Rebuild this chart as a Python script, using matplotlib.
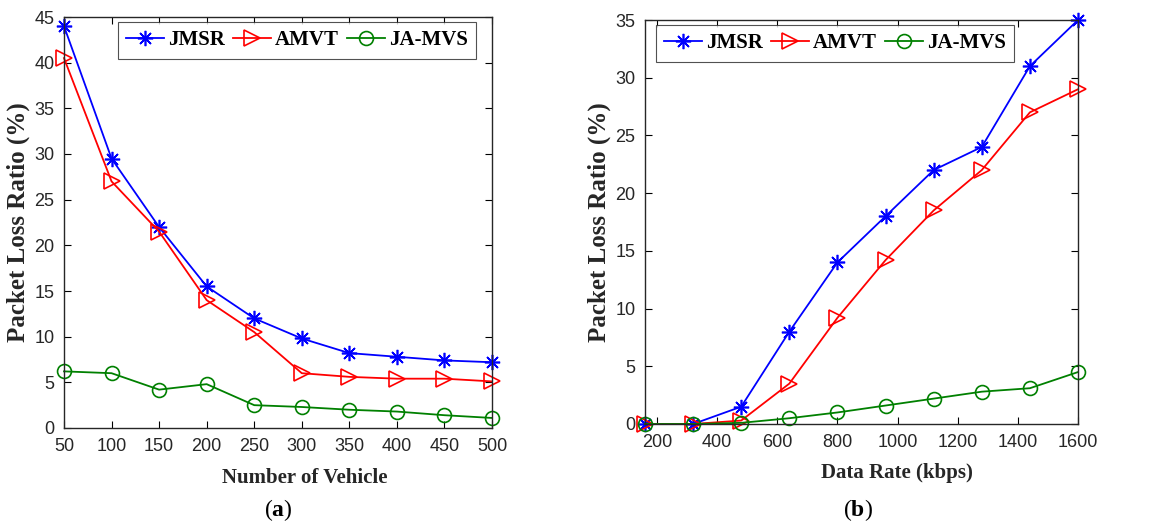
import matplotlib
matplotlib.use('Agg')
import matplotlib.pyplot as plt

plt.rcParams['font.family'] = ['Liberation Sans', 'DejaVu Sans']
plt.rcParams['mathtext.fontset'] = 'custom'
plt.rcParams['mathtext.rm'] = 'Liberation Serif'
plt.rcParams['mathtext.bf'] = 'Liberation Serif:bold'

# (a) packet loss vs number of vehicles
vehicles = [50, 100, 150, 200, 250, 300, 350, 400, 450, 500]
jmsr_a = [44, 29.5, 22, 15.5, 12, 9.8, 8.2, 7.8, 7.4, 7.2]
amvt_a = [40.5, 27, 21.5, 14, 10.5, 6.0, 5.6, 5.4, 5.4, 5.1]
jamvs_a = [6.2, 6.0, 4.2, 4.8, 2.5, 2.3, 2.0, 1.8, 1.4, 1.1]

# (b) packet loss vs data rate
rates = [160, 320, 480, 640, 800, 960, 1120, 1280, 1440, 1600]
jmsr_b = [0, 0, 1.5, 8, 14, 18, 22, 24, 31, 35]
amvt_b = [0, 0, 0.3, 3.5, 9.2, 14.2, 18.5, 22, 27, 29]
jamvs_b = [0, 0, 0.1, 0.5, 1.0, 1.6, 2.2, 2.8, 3.1, 4.5]

labels = ['JMSR', 'AMVT', 'JA-MVS']
serif_bold = {'family': 'Liberation Serif', 'weight': 'bold'}
dark = '#262626'

fig = plt.figure(figsize=(11.69, 5.31), dpi=100)
ax1 = fig.add_axes([64 / 1169, 1 - 428 / 531, 428 / 1169, 411 / 531])
ax2 = fig.add_axes([645 / 1169, 1 - 424 / 531, 433 / 1169, 404 / 531])


def draw(ax, x, series):
    styles = [('blue', (8, 2, 0), 11), ('red', '>', 11), ('green', 'o', 10)]
    for ys, (c, m, ms), lab in zip(series, styles, labels):
        ax.plot(x, ys, color=c, marker=m, markersize=ms, markerfacecolor='none',
                markeredgecolor=c, markeredgewidth=1.2, linewidth=1.3, label=lab,
                clip_on=False)
    ax.tick_params(direction='in', top=True, right=True, length=5, width=0.8,
                   labelsize=13, labelcolor=dark, pad=7)
    for s in ax.spines.values():
        s.set_linewidth(1.0)
        s.set_color(dark)
    ax.set_ylabel('Packet Loss Ratio (%)', fontdict=serif_bold, fontsize=18,
                  color=dark, labelpad=3)
    leg = ax.legend(loc='upper left', ncol=3,
                    prop={'family': 'Liberation Serif', 'weight': 'bold', 'size': 15},
                    frameon=True, fancybox=False, edgecolor=dark,
                    handlelength=1.8, handletextpad=0.2, columnspacing=0.4,
                    borderpad=0.4, borderaxespad=0)
    leg.get_frame().set_linewidth(0.8)
    return leg


leg1 = draw(ax1, vehicles, [jmsr_a, amvt_a, jamvs_a])
leg1.set_bbox_to_anchor((0.126, 0.988), transform=ax1.transAxes)
ax1.set_xlim(50, 500)
ax1.set_ylim(0, 45)
ax1.set_xticks(vehicles)
ax1.set_yticks(range(0, 46, 5))
ax1.set_xlabel('Number of Vehicle', fontdict=serif_bold, fontsize=15, color=dark)
ax1.xaxis.set_label_coords(0.563, -0.097)

leg2 = draw(ax2, rates, [jmsr_b, amvt_b, jamvs_b])
leg2.set_bbox_to_anchor((0.025, 0.988), transform=ax2.transAxes)
ax2.set_xlim(160, 1600)
ax2.set_ylim(0, 35)
ax2.set_xticks(range(200, 1601, 200))
ax2.set_yticks(range(0, 36, 5))
ax2.set_xlabel('Data Rate (kbps)', fontdict=serif_bold, fontsize=15, color=dark)
ax2.xaxis.set_label_coords(0.582, -0.097)

fig.text(278 / 1169, 1 - 510 / 531, r'($\mathbf{a}$)', ha='center', va='center',
         fontsize=17, family='Liberation Serif')
fig.text(858 / 1169, 1 - 510 / 531, r'($\mathbf{b}$)', ha='center', va='center',
         fontsize=17, family='Liberation Serif')

fig.savefig('out.png', dpi=100)
